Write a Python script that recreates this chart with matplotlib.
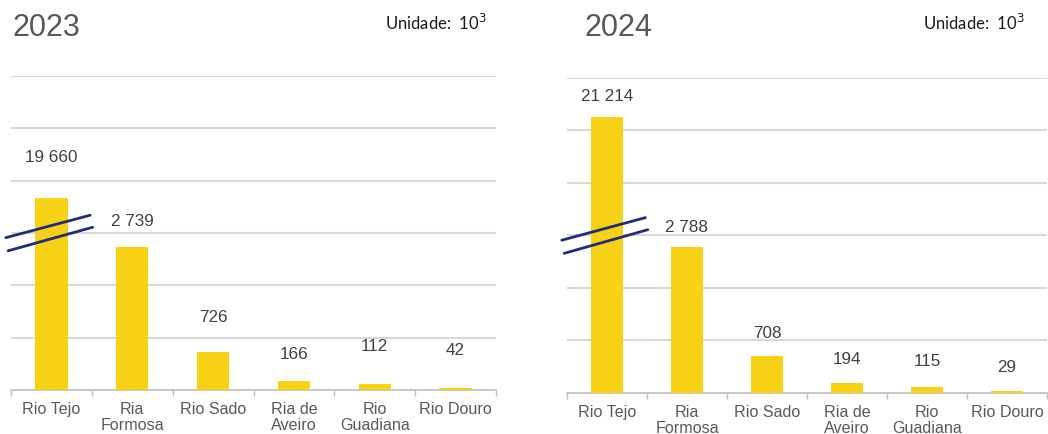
import matplotlib.pyplot as plt

# Dados (unidade: 10^3)
categorias = ["Rio Tejo", "Ria\nFormosa", "Rio Sado", "Ria de\nAveiro", "Rio\nGuadiana", "Rio Douro"]
anos = ["2023", "2024"]
valores_2023 = [19660, 2739, 726, 166, 112, 42]
valores_2024 = [21214, 2788, 708, 194, 115, 29]
# altura desenhada da barra do Rio Tejo (eixo interrompido)
tejo_visivel = [3670, 5260]

# deslocamento dos rótulos acima das barras (pt)
desloc_2023 = [29, 18, 25, 19, 27, 27]
desloc_2024 = [15, 14, 16, 17, 18, 17]

amarelo = "#F6D116"
cinza_grelha = "#D9D9D9"
azul_quebra = "#232C7C"

fig = plt.figure(figsize=(10.48, 4.34), dpi=100)
ax1 = fig.add_axes([0.0105, 0.1014, 0.4628, 0.7235])
ax2 = fig.add_axes([0.541, 0.0945, 0.458, 0.7258])

paineis = [
    (ax1, anos[0], valores_2023, tejo_visivel[0], desloc_2023, 0.0124, 0.367),
    (ax2, anos[1], valores_2024, tejo_visivel[1], desloc_2024, 0.558, 0.881),
]

for ax, ano, valores, tejo, desloc, x_titulo, x_unid in paineis:
    alturas = [tejo] + valores[1:]
    x = list(range(len(categorias)))
    ax.bar(x, alturas, width=0.4, color=amarelo, zorder=3)

    for xi, h, v, d in zip(x, alturas, valores, desloc):
        txt = f"{v:,}".replace(",", " ")
        ax.annotate(txt, (xi, h), xytext=(0, d), textcoords="offset points",
                    ha="center", va="center", fontsize=12.3,
                    family="Liberation Sans", color="#404040")

    ax.set_xlim(-0.5, 5.5)
    ax.set_ylim(0, 6000)
    ax.set_yticks([1000, 2000, 3000, 4000, 5000, 6000])
    ax.yaxis.grid(True, color=cinza_grelha, linewidth=1.5, zorder=0)
    ax.tick_params(axis="y", length=0, labelleft=False)

    ax.set_xticks(x)
    ax.set_xticklabels(categorias, fontsize=11.6, family="Liberation Sans",
                       color="#595959", linespacing=1.05)
    ax.tick_params(axis="x", which="major", length=0, pad=9)
    ax.set_xticks([i - 0.5 for i in range(len(categorias) + 1)], minor=True)
    ax.tick_params(axis="x", which="minor", length=4, color="#BFBFBF", width=1)

    for s in ["left", "right", "top"]:
        ax.spines[s].set_visible(False)
    ax.spines["bottom"].set_color("#BFBFBF")
    ax.spines["bottom"].set_linewidth(1.2)

    # marca de interrupção do eixo
    ax.plot([-0.565, 0.48], [2910, 3340], color=azul_quebra, lw=2.0,
            clip_on=False, zorder=5, solid_capstyle="round")
    ax.plot([-0.535, 0.51], [2660, 3110], color=azul_quebra, lw=2.0,
            clip_on=False, zorder=5, solid_capstyle="round")

    fig.text(x_titulo, 0.936, ano, fontsize=22, family="Liberation Sans",
             color="#595959", va="center", ha="left")
    fig.text(x_unid, 0.948, "Unidade:  10$^3$", fontsize=12, family="Lato",
             color="#1A1A1A", va="center", ha="left")

fig.savefig("out.png", dpi=100)
